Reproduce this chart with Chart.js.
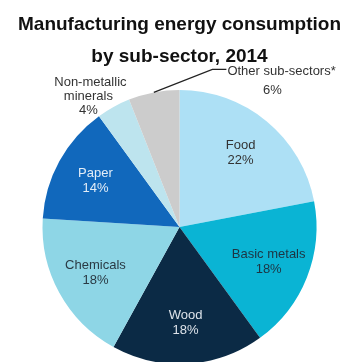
<!DOCTYPE html>
<html>
<head>
<meta charset="utf-8">
<script src="https://cdn.jsdelivr.net/npm/chart.js@4/dist/chart.umd.min.js"></script>
<style>
  html, body { margin: 0; padding: 0; background: #fff; overflow: hidden; }
  #wrap { width: 345px; height: 362px; position: relative; }
</style>
</head>
<body>
<div id="wrap"><canvas id="c"></canvas></div>
<script>
const categories = ["Food", "Basic metals", "Wood", "Chemicals", "Paper", "Non-metallic minerals", "Other sub-sectors*"];
const shares = [22, 18, 18, 18, 14, 4, 6];
const sliceColors = ["#ade0f5", "#0ab4d4", "#0b2a45", "#8ed6e6", "#1168bc", "#bde4ee", "#cccccc"];
const labelColors = ["#333333", "#1e3442", "#dde3ea", "#2a3a44", "#e3edf7", "#333333", "#333333"];
const titleLines = ["Manufacturing energy consumption", "by sub-sector, 2014"];

const labelPlugin = {
  id: 'sliceLabels',
  afterDatasetsDraw(chart) {
    const ctx = chart.ctx;
    const meta = chart.getDatasetMeta(0);
    ctx.save();
    ctx.font = '13px "Liberation Sans", Arial, sans-serif';
    ctx.textBaseline = 'middle';
    meta.data.forEach((arc, i) => {
      const p = arc.getProps(['x', 'y', 'startAngle', 'endAngle', 'outerRadius'], true);
      const mid = (p.startAngle + p.endAngle) / 2;
      const r = p.outerRadius;
      const name = categories[i];
      const pct = shares[i] + '%';
      ctx.fillStyle = labelColors[i];
      if (i < 5) {
        const d = r * 0.7;
        const lx = p.x + Math.cos(mid) * d;
        const ly = p.y + Math.sin(mid) * d;
        ctx.textAlign = 'center';
        ctx.fillText(name, lx, ly - 7.5);
        ctx.fillText(pct, lx, ly + 7.5);
      } else if (i === 5) {
        const lx = p.x - r * 0.665;
        const ly = p.y - r * 0.955;
        ctx.textAlign = 'center';
        ctx.fillText('Non-metallic', lx + 2, ly - 14);
        ctx.fillText('minerals', lx, ly);
        ctx.fillText(pct, lx, ly + 14.5);
      } else {
        const sx = p.x + Math.cos(mid) * r;
        const sy = p.y + Math.sin(mid) * r;
        const ex = p.x + r * 0.24;
        const ey = p.y - r * 1.15;
        ctx.strokeStyle = '#222';
        ctx.lineWidth = 1.2;
        ctx.beginPath();
        ctx.moveTo(sx, sy);
        ctx.lineTo(ex, ey);
        ctx.lineTo(ex + 14, ey);
        ctx.stroke();
        ctx.textAlign = 'left';
        ctx.fillText(name, ex + 15, ey + 1.5);
        ctx.textAlign = 'center';
        ctx.fillText(pct, ex + 60, ey + 20.5);
      }
    });
    ctx.restore();
  }
};

new Chart(document.getElementById('c'), {
  type: 'pie',
  data: {
    labels: categories,
    datasets: [{
      data: shares,
      backgroundColor: sliceColors,
      borderWidth: 0
    }]
  },
  options: {
    responsive: true,
    maintainAspectRatio: false,
    animation: false,
    radius: 137,
    layout: { padding: { left: 14, right: 0, top: 0, bottom: 0 } },
    plugins: {
      legend: { display: false },
      tooltip: { enabled: false },
      title: {
        display: true,
        text: titleLines,
        color: '#111111',
        font: { family: '"Liberation Sans", Arial, sans-serif', size: 19, weight: 'bold', lineHeight: 1.684 },
        padding: { top: 9, bottom: 19 }
      }
    }
  },
  plugins: [labelPlugin]
});
</script>
</body>
</html>
